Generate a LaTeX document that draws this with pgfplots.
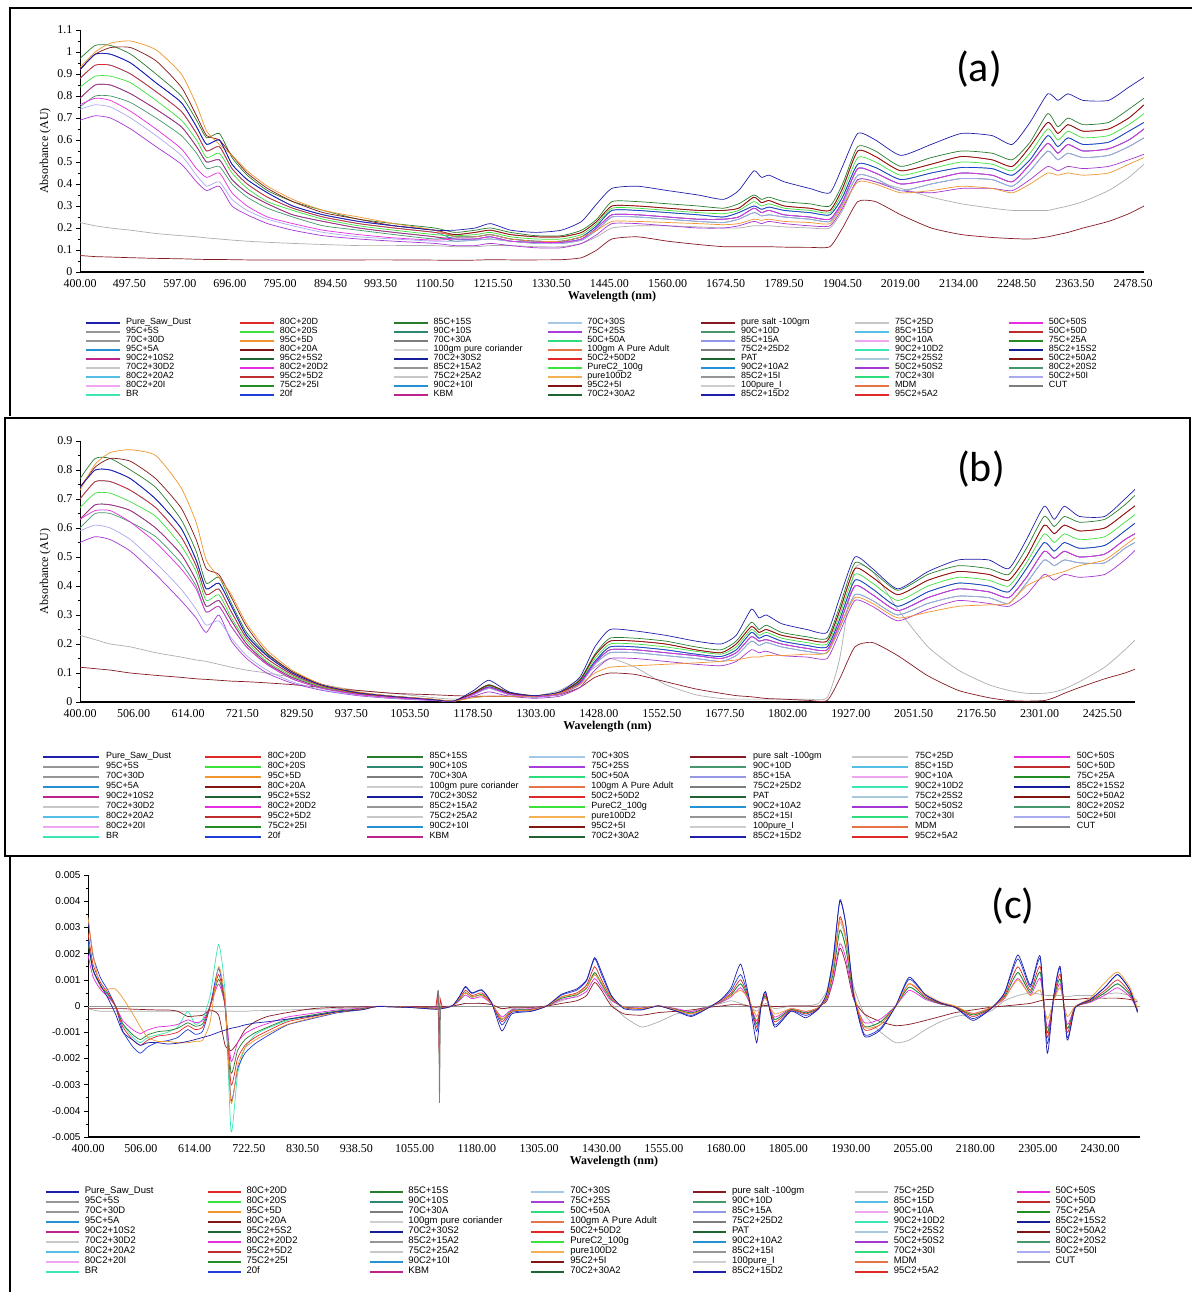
\documentclass[border=0pt]{standalone}
\usepackage{pgfplots}
\pgfplotsset{compat=1.18}
\usepackage{pgfplotstable}
\usepackage{fontspec}
\setmainfont{Liberation Serif}
\setsansfont{Liberation Sans}
\newfontfamily\calfont{Carlito}
\newfontfamily\legfont{Liberation Sans}

\definecolor{kNavy}{RGB}{30,30,170}
\definecolor{kRed}{RGB}{225,40,40}
\definecolor{kDGreen}{RGB}{40,125,45}
\definecolor{kLBlue}{RGB}{165,200,230}
\definecolor{kMaroon}{RGB}{135,25,35}
\definecolor{kLGrey}{RGB}{200,200,200}
\definecolor{kMag}{RGB}{230,45,225}
\definecolor{kGrey}{RGB}{150,150,150}
\definecolor{kBGreen}{RGB}{60,225,60}
\definecolor{kTeal}{RGB}{45,135,115}
\definecolor{kPurp}{RGB}{170,60,220}
\definecolor{kSGreen}{RGB}{70,150,110}
\definecolor{kSky}{RGB}{85,190,230}
\definecolor{kBrick}{RGB}{190,45,45}
\definecolor{kOrange}{RGB}{240,150,45}
\definecolor{kDGrey}{RGB}{125,125,125}
\definecolor{kSpring}{RGB}{45,220,125}
\definecolor{kPeri}{RGB}{150,150,230}
\definecolor{kLPink}{RGB}{240,165,240}
\definecolor{kGreen}{RGB}{35,140,35}
\definecolor{kCeru}{RGB}{35,145,210}
\definecolor{kDRed}{RGB}{130,20,20}
\definecolor{kVLGrey}{RGB}{205,205,205}
\definecolor{kCoral}{RGB}{230,115,70}
\definecolor{kAqua}{RGB}{60,230,180}
\definecolor{kDNavy}{RGB}{20,30,150}
\definecolor{kMVRed}{RGB}{190,35,140}
\definecolor{kDDGreen}{RGB}{30,100,50}
\definecolor{kLBGrey}{RGB}{170,200,220}
\definecolor{kViolet}{RGB}{165,55,210}
\definecolor{kLOrange}{RGB}{245,175,85}
\definecolor{kLav}{RGB}{170,170,240}
\definecolor{kBlue}{RGB}{30,60,220}

\newcommand\LE[2]{\addlegendimage{#1}\addlegendentry{#2}}
\newcommand\biglegend{%
\LE{kNavy}{Pure\_Saw\_Dust}\LE{kRed}{80C+20D}\LE{kDGreen}{85C+15S}\LE{kLBlue}{70C+30S}\LE{kMaroon}{pure salt -100gm}\LE{kLGrey}{75C+25D}\LE{kMag}{50C+50S}%
\LE{kGrey}{95C+5S}\LE{kBGreen}{80C+20S}\LE{kTeal}{90C+10S}\LE{kPurp}{75C+25S}\LE{kSGreen}{90C+10D}\LE{kSky}{85C+15D}\LE{kBrick}{50C+50D}%
\LE{kGrey}{70C+30D}\LE{kOrange}{95C+5D}\LE{kDGrey}{70C+30A}\LE{kSpring}{50C+50A}\LE{kPeri}{85C+15A}\LE{kLPink}{90C+10A}\LE{kGreen}{75C+25A}%
\LE{kCeru}{95C+5A}\LE{kDRed}{80C+20A}\LE{kVLGrey}{100gm pure coriander}\LE{kCoral}{100gm A Pure Adult}\LE{kDGrey}{75C2+25D2}\LE{kAqua}{90C2+10D2}\LE{kDNavy}{85C2+15S2}%
\LE{kMVRed}{90C2+10S2}\LE{kDDGreen}{95C2+5S2}\LE{kDNavy}{70C2+30S2}\LE{kRed}{50C2+50D2}\LE{kDDGreen}{PAT}\LE{kLBGrey}{75C2+25S2}\LE{kDRed}{50C2+50A2}%
\LE{kLGrey}{70C2+30D2}\LE{kMag}{80C2+20D2}\LE{kGrey}{85C2+15A2}\LE{kBGreen}{PureC2\_100g}\LE{kCeru}{90C2+10A2}\LE{kViolet}{50C2+50S2}\LE{kSGreen}{80C2+20S2}%
\LE{kSky}{80C2+20A2}\LE{kBrick}{95C2+5D2}\LE{kLGrey}{75C2+25A2}\LE{kLOrange}{pure100D2}\LE{kGrey}{85C2+15I}\LE{kSpring}{70C2+30I}\LE{kLav}{50C2+50I}%
\LE{kLPink}{80C2+20I}\LE{kGreen}{75C2+25I}\LE{kCeru}{90C2+10I}\LE{kDRed}{95C2+5I}\LE{kVLGrey}{100pure\_I}\LE{kCoral}{MDM}\LE{kDGrey}{CUT}%
\LE{kAqua}{BR}\LE{kBlue}{20f}\LE{kMVRed}{KBM}\LE{kDDGreen}{70C2+30A2}\LE{kNavy}{85C2+15D2}\LE{kRed}{95C2+5A2}%
}

\pgfplotsset{
 spec/.style={scale only axis, axis x line*=bottom, axis y line*=left,
  x axis line style={line width=2.6pt}, y axis line style={line width=0.6pt},
  xtick style={draw=none}, ytick style={black,line width=0.5pt},
  tick align=outside, major tick length=4pt, minor tick length=2.5pt, minor y tick num=1,
  xticklabel style={font=\fontsize{12}{12}\selectfont},
  yticklabel style={font=\fontsize{12}{12}\selectfont},
  xlabel style={font=\bfseries\fontsize{12}{12}\selectfont, yshift=3pt},
  ylabel style={font=\fontsize{12}{12}\selectfont},
  every axis plot/.append style={line width=0.7pt},
  legend columns=7, legend cell align=left},
 legA/.style={legend style={at={(0.0047,-0.19)}, anchor=north west, draw=none, fill=none, inner sep=0pt,
  font=\legfont\fontsize{9}{9}\selectfont, /tikz/every odd column/.append style={column sep=5pt},
  nodes={inner sep=0pt, text height=6.5pt, text depth=2.5pt, text width=113pt, align=left}},
  legend image code/.code={\draw[##1,line width=1.8pt] (0pt,0pt) -- (34pt,0pt);}},
 legB/.style={legend style={at={(-0.036,-0.19)}, anchor=north west, draw=none, fill=none, inner sep=0pt,
  font=\legfont\fontsize{9}{9}\selectfont, /tikz/every odd column/.append style={column sep=6pt},
  nodes={inner sep=0pt, text height=7pt, text depth=3pt, text width=98pt, align=left}},
  legend image code/.code={\draw[##1,line width=1.8pt] (0pt,0pt) -- (56pt,0pt);}},
 legC/.style={legend style={at={(-0.041,-0.19)}, anchor=north west, draw=none, fill=none, inner sep=0pt,
  font=\legfont\fontsize{9.5}{9.5}\selectfont, /tikz/every odd column/.append style={column sep=5pt},
  nodes={inner sep=0pt, text height=7pt, text depth=3pt, text width=122pt, align=left}},
  legend image code/.code={\draw[##1,line width=1.8pt] (0pt,0pt) -- (33pt,0pt);}},
 sm/.style={smooth, tension=0.35},
}

\pgfplotstableread{
x g r lg bl mg sg ce tl nv or dr pu lv ma gy sa
400 0.97 0.88 0.84 0.92 0.79 0.75 0.88 0.79 0.92 0.93 0.92 0.69 0.74 0.76 0.225 0.075
430 1.03 0.94 0.89 0.99 0.85 0.80 0.94 0.85 0.99 1.00 0.99 0.71 0.76 0.79 0.21 0.07
460 1.03 0.94 0.89 0.99 0.85 0.80 0.94 0.85 0.99 1.04 1.02 0.70 0.75 0.78 0.20 0.068
500 0.99 0.90 0.86 0.95 0.81 0.77 0.90 0.81 0.95 1.05 1.02 0.65 0.70 0.73 0.19 0.065
550 0.90 0.82 0.78 0.86 0.74 0.70 0.82 0.74 0.86 1.01 0.96 0.57 0.62 0.65 0.175 0.062
600 0.80 0.73 0.69 0.77 0.66 0.62 0.73 0.66 0.77 0.90 0.84 0.49 0.53 0.56 0.165 0.06
630 0.69 0.63 0.60 0.66 0.57 0.54 0.63 0.57 0.66 0.76 0.71 0.41 0.44 0.47 0.16 0.058
650 0.61 0.55 0.52 0.58 0.50 0.47 0.55 0.50 0.58 0.64 0.62 0.37 0.39 0.43 0.155 0.057
675 0.63 0.57 0.54 0.60 0.51 0.48 0.57 0.51 0.60 0.58 0.60 0.39 0.41 0.45 0.15 0.057
700 0.52 0.47 0.45 0.49 0.42 0.40 0.47 0.42 0.49 0.53 0.53 0.30 0.33 0.36 0.145 0.056
730 0.44 0.40 0.38 0.42 0.36 0.34 0.40 0.36 0.42 0.46 0.45 0.26 0.28 0.30 0.14 0.055
770 0.37 0.34 0.32 0.36 0.31 0.29 0.34 0.31 0.36 0.39 0.38 0.22 0.24 0.25 0.135 0.055
820 0.32 0.29 0.28 0.30 0.26 0.25 0.29 0.26 0.30 0.33 0.32 0.19 0.21 0.22 0.13 0.055
880 0.28 0.25 0.24 0.26 0.23 0.21 0.25 0.23 0.26 0.28 0.27 0.165 0.18 0.19 0.125 0.055
950 0.24 0.22 0.21 0.23 0.20 0.19 0.22 0.20 0.23 0.25 0.24 0.15 0.16 0.17 0.12 0.055
1020 0.22 0.20 0.19 0.21 0.18 0.17 0.20 0.18 0.21 0.22 0.21 0.14 0.15 0.155 0.12 0.055
1100 0.20 0.18 0.17 0.19 0.16 0.15 0.18 0.16 0.19 0.19 0.19 0.13 0.14 0.145 0.12 0.054
1140 0.18 0.17 0.165 0.16 0.15 0.16 0.15 0.14 0.19 0.16 0.17 0.12 0.14 0.15 0.115 0.053
1180 0.19 0.18 0.17 0.16 0.15 0.16 0.15 0.145 0.20 0.16 0.18 0.12 0.145 0.15 0.115 0.054
1210 0.20 0.19 0.18 0.17 0.16 0.17 0.16 0.15 0.22 0.17 0.19 0.13 0.15 0.16 0.12 0.056
1250 0.18 0.17 0.16 0.15 0.14 0.15 0.14 0.14 0.19 0.15 0.17 0.12 0.14 0.14 0.12 0.055
1300 0.165 0.16 0.15 0.14 0.135 0.14 0.135 0.13 0.18 0.14 0.16 0.11 0.13 0.135 0.115 0.055
1350 0.165 0.16 0.15 0.14 0.135 0.14 0.135 0.13 0.19 0.14 0.16 0.11 0.13 0.135 0.115 0.056
1390 0.19 0.18 0.17 0.16 0.15 0.16 0.15 0.145 0.23 0.16 0.18 0.13 0.145 0.15 0.13 0.065
1420 0.24 0.23 0.22 0.21 0.20 0.21 0.20 0.19 0.31 0.19 0.23 0.17 0.19 0.20 0.16 0.10
1450 0.32 0.30 0.29 0.28 0.26 0.28 0.26 0.25 0.38 0.23 0.30 0.22 0.25 0.26 0.20 0.15
1500 0.32 0.30 0.29 0.28 0.26 0.28 0.26 0.25 0.39 0.23 0.30 0.22 0.25 0.26 0.21 0.16
1560 0.31 0.29 0.28 0.27 0.25 0.27 0.25 0.24 0.37 0.225 0.29 0.21 0.24 0.25 0.21 0.14
1620 0.30 0.28 0.27 0.26 0.24 0.26 0.24 0.23 0.35 0.22 0.28 0.20 0.23 0.24 0.205 0.125
1670 0.29 0.28 0.265 0.25 0.24 0.25 0.24 0.225 0.33 0.215 0.28 0.20 0.225 0.24 0.20 0.115
1700 0.31 0.29 0.28 0.27 0.25 0.27 0.25 0.24 0.37 0.22 0.29 0.21 0.24 0.25 0.20 0.115
1730 0.35 0.34 0.32 0.30 0.29 0.30 0.29 0.27 0.46 0.24 0.34 0.23 0.27 0.29 0.21 0.115
1745 0.33 0.315 0.30 0.285 0.27 0.285 0.27 0.255 0.43 0.235 0.315 0.22 0.255 0.27 0.21 0.115
1760 0.34 0.325 0.31 0.295 0.28 0.295 0.28 0.26 0.44 0.24 0.325 0.23 0.26 0.28 0.21 0.115
1790 0.32 0.30 0.29 0.28 0.26 0.28 0.26 0.25 0.41 0.23 0.30 0.22 0.25 0.26 0.205 0.113
1840 0.31 0.29 0.28 0.27 0.25 0.27 0.25 0.24 0.38 0.225 0.29 0.21 0.24 0.25 0.20 0.112
1880 0.30 0.28 0.27 0.26 0.24 0.26 0.24 0.23 0.36 0.22 0.28 0.21 0.23 0.24 0.20 0.115
1905 0.40 0.38 0.36 0.34 0.32 0.34 0.32 0.31 0.48 0.30 0.38 0.29 0.31 0.32 0.28 0.20
1935 0.57 0.55 0.52 0.49 0.47 0.49 0.47 0.44 0.63 0.41 0.55 0.42 0.44 0.47 0.42 0.32
1970 0.55 0.525 0.50 0.475 0.45 0.475 0.45 0.425 0.60 0.40 0.525 0.41 0.425 0.45 0.41 0.32
2020 0.48 0.46 0.44 0.42 0.40 0.42 0.40 0.37 0.53 0.36 0.46 0.37 0.37 0.40 0.38 0.26
2080 0.52 0.49 0.47 0.45 0.42 0.45 0.42 0.40 0.58 0.37 0.49 0.36 0.40 0.42 0.34 0.20
2140 0.55 0.525 0.50 0.475 0.45 0.475 0.45 0.425 0.63 0.39 0.525 0.38 0.425 0.45 0.31 0.17
2200 0.54 0.51 0.49 0.47 0.44 0.47 0.44 0.42 0.62 0.38 0.51 0.38 0.42 0.44 0.29 0.157
2240 0.51 0.48 0.46 0.44 0.41 0.44 0.41 0.39 0.58 0.36 0.48 0.37 0.39 0.41 0.28 0.152
2275 0.59 0.57 0.54 0.51 0.49 0.51 0.49 0.46 0.68 0.40 0.57 0.42 0.46 0.49 0.28 0.15
2310 0.72 0.68 0.65 0.62 0.585 0.62 0.585 0.55 0.81 0.45 0.68 0.48 0.55 0.585 0.28 0.16
2330 0.66 0.63 0.60 0.57 0.54 0.57 0.54 0.51 0.78 0.44 0.63 0.46 0.51 0.54 0.29 0.17
2350 0.70 0.67 0.64 0.61 0.58 0.61 0.58 0.54 0.81 0.45 0.67 0.48 0.54 0.58 0.30 0.18
2380 0.67 0.64 0.61 0.58 0.55 0.58 0.55 0.52 0.78 0.44 0.64 0.47 0.52 0.55 0.32 0.20
2430 0.68 0.65 0.62 0.59 0.56 0.59 0.56 0.53 0.78 0.45 0.65 0.48 0.53 0.56 0.37 0.23
2470 0.74 0.70 0.67 0.64 0.60 0.64 0.60 0.57 0.84 0.49 0.70 0.51 0.57 0.60 0.43 0.265
2500 0.79 0.76 0.72 0.68 0.65 0.68 0.65 0.61 0.885 0.52 0.76 0.535 0.61 0.65 0.49 0.30
}\tA

\pgfplotstableread{
x g r lg bl mg sg ce tl nv or dr pu lv ma gy sa
400 0.77 0.70 0.67 0.74 0.63 0.60 0.70 0.63 0.74 0.73 0.74 0.55 0.59 0.63 0.23 0.12
430 0.84 0.76 0.72 0.80 0.68 0.65 0.76 0.68 0.80 0.82 0.81 0.57 0.61 0.66 0.215 0.115
460 0.84 0.76 0.72 0.80 0.68 0.65 0.76 0.68 0.80 0.86 0.84 0.56 0.60 0.66 0.20 0.11
500 0.80 0.73 0.69 0.77 0.66 0.62 0.73 0.66 0.77 0.87 0.83 0.52 0.56 0.62 0.19 0.10
550 0.74 0.67 0.64 0.70 0.60 0.57 0.67 0.60 0.70 0.85 0.77 0.44 0.48 0.55 0.17 0.092
600 0.63 0.57 0.54 0.60 0.51 0.48 0.57 0.51 0.60 0.74 0.67 0.35 0.39 0.46 0.155 0.085
630 0.52 0.47 0.45 0.49 0.42 0.40 0.47 0.42 0.49 0.62 0.56 0.29 0.32 0.39 0.145 0.08
650 0.41 0.37 0.35 0.39 0.33 0.31 0.37 0.33 0.39 0.49 0.46 0.24 0.265 0.31 0.14 0.078
675 0.43 0.39 0.37 0.41 0.35 0.33 0.39 0.35 0.41 0.43 0.44 0.30 0.28 0.33 0.13 0.075
700 0.34 0.31 0.29 0.33 0.28 0.26 0.31 0.28 0.33 0.37 0.36 0.21 0.22 0.26 0.12 0.072
730 0.24 0.22 0.21 0.23 0.20 0.19 0.22 0.20 0.23 0.27 0.26 0.15 0.16 0.19 0.11 0.07
770 0.165 0.15 0.14 0.16 0.135 0.13 0.15 0.135 0.16 0.18 0.17 0.10 0.11 0.13 0.10 0.066
820 0.105 0.095 0.09 0.10 0.085 0.08 0.095 0.085 0.10 0.11 0.105 0.065 0.07 0.08 0.085 0.06
880 0.06 0.055 0.052 0.058 0.05 0.047 0.055 0.05 0.058 0.06 0.06 0.04 0.042 0.047 0.06 0.05
950 0.033 0.03 0.029 0.032 0.027 0.026 0.03 0.027 0.032 0.035 0.033 0.022 0.024 0.026 0.04 0.04
1020 0.02 0.018 0.017 0.019 0.016 0.015 0.018 0.016 0.019 0.02 0.02 0.012 0.013 0.015 0.03 0.03
1100 0.009 0.008 0.008 0.008 0.007 0.007 0.008 0.007 0.008 0.01 0.009 0.005 0.006 0.007 0.015 0.025
1140 0.003 0.003 0.003 0.003 0.003 0.003 0.003 0.003 0.003 0.003 0.003 0.002 0.003 0.003 0.01 0.022
1180 0.033 0.032 0.03 0.029 0.027 0.029 0.027 0.026 0.04 0.015 0.032 0.02 0.026 0.027 0.015 0.02
1210 0.06 0.058 0.055 0.052 0.05 0.052 0.05 0.047 0.075 0.02 0.058 0.035 0.047 0.05 0.02 0.02
1250 0.033 0.032 0.03 0.029 0.027 0.029 0.027 0.026 0.035 0.02 0.032 0.02 0.026 0.027 0.02 0.02
1300 0.022 0.021 0.02 0.019 0.018 0.019 0.018 0.017 0.022 0.02 0.021 0.013 0.017 0.018 0.02 0.02
1350 0.033 0.032 0.03 0.029 0.027 0.029 0.027 0.026 0.035 0.03 0.032 0.02 0.026 0.027 0.04 0.025
1390 0.077 0.074 0.07 0.067 0.063 0.067 0.063 0.06 0.085 0.06 0.074 0.05 0.06 0.063 0.08 0.05
1420 0.165 0.16 0.15 0.14 0.135 0.14 0.135 0.13 0.19 0.10 0.16 0.11 0.13 0.135 0.12 0.085
1450 0.22 0.21 0.20 0.19 0.18 0.19 0.18 0.17 0.25 0.12 0.21 0.15 0.17 0.18 0.15 0.10
1500 0.22 0.21 0.20 0.19 0.18 0.19 0.18 0.17 0.245 0.125 0.21 0.15 0.17 0.18 0.12 0.095
1560 0.21 0.20 0.19 0.18 0.17 0.18 0.17 0.16 0.23 0.13 0.20 0.14 0.16 0.17 0.06 0.07
1620 0.19 0.18 0.175 0.165 0.16 0.165 0.16 0.15 0.21 0.135 0.18 0.13 0.15 0.16 0.025 0.045
1670 0.18 0.17 0.165 0.157 0.15 0.157 0.15 0.14 0.20 0.14 0.17 0.125 0.14 0.15 0.012 0.03
1700 0.21 0.20 0.19 0.18 0.17 0.18 0.17 0.16 0.23 0.145 0.20 0.14 0.16 0.17 0.01 0.022
1730 0.275 0.26 0.25 0.24 0.225 0.24 0.225 0.21 0.32 0.155 0.26 0.18 0.21 0.225 0.01 0.018
1745 0.25 0.24 0.23 0.22 0.21 0.22 0.21 0.195 0.29 0.155 0.24 0.17 0.195 0.21 0.01 0.015
1760 0.265 0.25 0.24 0.23 0.215 0.23 0.215 0.205 0.30 0.16 0.25 0.175 0.205 0.215 0.01 0.012
1790 0.24 0.23 0.22 0.21 0.20 0.21 0.20 0.19 0.27 0.16 0.23 0.16 0.19 0.20 0.01 0.01
1840 0.225 0.215 0.205 0.195 0.185 0.195 0.185 0.175 0.25 0.165 0.215 0.155 0.175 0.185 0.01 0.006
1880 0.22 0.21 0.20 0.19 0.18 0.19 0.18 0.17 0.24 0.17 0.21 0.15 0.17 0.18 0.015 0.005
1905 0.33 0.315 0.30 0.285 0.27 0.285 0.27 0.255 0.36 0.26 0.315 0.24 0.255 0.27 0.15 0.08
1935 0.48 0.46 0.44 0.42 0.40 0.42 0.40 0.37 0.50 0.36 0.46 0.35 0.37 0.40 0.46 0.19
1970 0.45 0.43 0.41 0.39 0.37 0.39 0.37 0.35 0.46 0.34 0.43 0.33 0.35 0.37 0.45 0.205
2020 0.385 0.37 0.35 0.33 0.315 0.33 0.315 0.30 0.39 0.29 0.37 0.28 0.30 0.315 0.32 0.16
2080 0.44 0.42 0.40 0.38 0.36 0.38 0.36 0.34 0.45 0.31 0.42 0.32 0.34 0.36 0.19 0.09
2140 0.47 0.45 0.43 0.41 0.39 0.41 0.39 0.365 0.49 0.33 0.45 0.35 0.365 0.39 0.11 0.04
2200 0.46 0.44 0.42 0.40 0.38 0.40 0.38 0.36 0.49 0.335 0.44 0.34 0.36 0.38 0.06 0.015
2240 0.44 0.42 0.40 0.38 0.36 0.38 0.36 0.34 0.46 0.34 0.42 0.33 0.34 0.36 0.04 0.005
2275 0.53 0.50 0.48 0.46 0.43 0.46 0.43 0.41 0.56 0.40 0.50 0.37 0.41 0.43 0.03 0.003
2310 0.64 0.61 0.58 0.55 0.52 0.55 0.52 0.49 0.675 0.43 0.61 0.44 0.49 0.52 0.03 0.005
2330 0.605 0.58 0.55 0.52 0.495 0.52 0.495 0.47 0.63 0.44 0.58 0.42 0.47 0.495 0.035 0.015
2350 0.64 0.61 0.58 0.55 0.52 0.55 0.52 0.49 0.675 0.45 0.61 0.44 0.49 0.52 0.045 0.03
2380 0.62 0.59 0.56 0.53 0.50 0.53 0.50 0.48 0.64 0.47 0.59 0.43 0.48 0.50 0.07 0.05
2430 0.63 0.60 0.57 0.54 0.51 0.54 0.51 0.48 0.64 0.49 0.60 0.44 0.48 0.51 0.12 0.08
2470 0.68 0.65 0.62 0.59 0.56 0.59 0.56 0.53 0.70 0.54 0.65 0.49 0.53 0.56 0.18 0.10
2500 0.73 0.69 0.66 0.63 0.59 0.63 0.59 0.56 0.75 0.58 0.69 0.54 0.56 0.59 0.23 0.12
}\tB

\pgfplotstableread{
x hi mid lo vlo cy or nv gy sa
400 3.36 2.8 2.38 1.96 2.5 3.4 2.5 -0.1 -0.1
410 1.92 1.6 1.36 1.12 1.4 2.0 1.4 -0.15 -0.1
425 1.08 0.9 0.77 0.63 0.8 0.7 0.8 -0.2 -0.1
440 0.6 0.5 0.43 0.35 0.45 0.65 0.3 -0.2 -0.1
455 0 0 0 0 0 0.65 -0.3 -0.2 -0.1
470 -0.96 -0.8 -0.68 -0.56 -0.7 0.3 -1.0 -0.2 -0.1
490 -1.56 -1.3 -1.1 -0.91 -1.2 -0.3 -1.3 -0.2 -0.12
505 -1.8 -1.5 -1.28 -1.05 -1.4 -0.8 -1.5 -0.2 -0.13
520 -1.56 -1.3 -1.1 -0.91 -1.2 -1.2 -1.4 -0.2 -0.14
540 -1.38 -1.15 -0.98 -0.8 -1.1 -1.35 -1.4 -0.2 -0.15
560 -1.32 -1.1 -0.94 -0.77 -1.0 -1.35 -1.45 -0.2 -0.15
580 -1.2 -1.0 -0.85 -0.7 -0.8 -1.4 -1.42 -0.2 -0.2
600 -0.9 -0.75 -0.64 -0.53 -0.2 -1.4 -1.35 -0.2 -0.4
615 -1.08 -0.9 -0.77 -0.63 -0.7 -1.35 -1.28 -0.2 -0.38
630 -0.96 -0.8 -0.68 -0.56 -0.5 -1.3 -1.2 -0.2 -0.35
645 0 0 0 0 0.4 -0.6 -1.12 -0.2 -0.15
662 1.44 1.2 1.02 0.84 2.35 1.5 -1.0 -0.2 -0.35
675 0 0 0 0 0.5 0.2 -0.92 -0.2 -1.5
687 -3.6 -3.0 -2.55 -2.1 -4.8 -3.7 -0.85 -0.2 -1.7
700 -2.4 -2.0 -1.7 -1.4 -2.6 -2.3 -0.8 -0.2 -1.4
715 -1.8 -1.5 -1.28 -1.05 -1.6 -1.6 -0.72 -0.2 -0.9
735 -1.44 -1.2 -1.02 -0.84 -1.1 -1.3 -0.65 -0.18 -0.6
760 -1.14 -0.95 -0.81 -0.67 -0.85 -1.05 -0.6 -0.17 -0.4
800 -0.72 -0.6 -0.51 -0.42 -0.55 -0.7 -0.5 -0.15 -0.25
850 -0.48 -0.4 -0.34 -0.28 -0.36 -0.45 -0.38 -0.13 -0.1
900 -0.26 -0.22 -0.19 -0.15 -0.2 -0.24 -0.22 -0.1 -0.05
950 -0.14 -0.12 -0.1 -0.08 -0.1 -0.13 -0.14 -0.05 -0.03
980 -0.02 -0.02 -0.02 -0.01 -0.02 -0.02 -0.02 -0.02 -0.02
1050 -0.06 -0.05 -0.04 -0.035 -0.05 -0.05 -0.06 -0.03 -0.02
1100 -0.12 -0.1 -0.085 -0.07 -0.1 -0.1 -0.12 -0.05 -0.03
1130 0 0 0 0 0 0 0 0 0
1145 0.36 0.3 0.26 0.21 0.26 0.3 0.36 0.05 0.05
1157 0.72 0.6 0.51 0.42 0.51 0.5 0.75 0.1 0.1
1170 0.48 0.4 0.34 0.28 0.34 0.35 0.5 0.1 0.1
1190 0.6 0.5 0.43 0.35 0.43 0.4 0.62 0.1 0.1
1210 0.12 0.1 0.085 0.07 0.085 0.1 0.1 0.05 0.05
1230 -0.72 -0.6 -0.51 -0.42 -0.51 -0.5 -0.95 -0.1 -0.1
1250 -0.24 -0.2 -0.17 -0.14 -0.17 -0.2 -0.3 -0.1 -0.05
1290 -0.18 -0.15 -0.13 -0.1 -0.13 -0.15 -0.2 -0.05 -0.05
1320 0 0 0 0 0 0 0 0 0
1350 0.42 0.35 0.3 0.25 0.3 0.35 0.45 0.2 0.1
1380 0.6 0.5 0.43 0.35 0.43 0.45 0.65 0.4 0.2
1400 0.96 0.8 0.68 0.56 0.68 0.7 1.0 0.8 0.4
1416 1.8 1.5 1.28 1.05 1.28 1.2 1.85 1.2 0.9
1430 1.2 1.0 0.85 0.7 0.85 0.9 1.3 0.8 0.6
1450 0.36 0.3 0.26 0.21 0.26 0.3 0.4 0.1 0.0
1475 -0.06 -0.05 -0.04 -0.035 -0.04 -0.05 -0.1 -0.4 -0.3
1510 -0.12 -0.1 -0.085 -0.07 -0.085 -0.1 -0.15 -0.8 -0.35
1545 0 0 0 0 0 0 0 -0.6 -0.25
1580 -0.18 -0.15 -0.13 -0.1 -0.13 -0.15 -0.2 -0.3 -0.2
1610 -0.36 -0.3 -0.26 -0.21 -0.26 -0.3 -0.4 -0.2 -0.15
1645 -0.06 -0.05 -0.04 -0.035 -0.04 -0.05 -0.06 0 -0.05
1670 0.24 0.2 0.17 0.14 0.17 0.2 0.25 0.1 0
1690 0.6 0.5 0.43 0.35 0.43 0.4 0.7 0.2 0.05
1709 1.2 1.0 0.85 0.7 0.85 0.6 1.6 0.1 0.05
1725 0.36 0.3 0.26 0.21 0.26 0.3 0.4 0 0
1741 -0.96 -0.8 -0.68 -0.56 -0.68 -0.4 -1.4 -0.2 -0.05
1750 0 0 0 0 0 0.1 0 0 0
1759 0.54 0.45 0.38 0.32 0.38 0.3 0.55 0.1 0.02
1777 -0.72 -0.6 -0.51 -0.42 -0.51 -0.3 -0.8 -0.1 -0.02
1810 -0.18 -0.15 -0.13 -0.1 -0.13 -0.1 -0.2 0 0
1840 -0.36 -0.3 -0.26 -0.21 -0.26 -0.2 -0.45 0 0
1865 -0.12 -0.1 -0.085 -0.07 -0.085 -0.05 -0.1 0.1 0
1882 0.48 0.4 0.34 0.28 0.34 0.4 0.5 0.6 0.2
1895 1.8 1.5 1.28 1.05 1.28 1.5 1.9 1.8 1.0
1908 4.05 3.4 2.89 2.38 2.89 3.3 4.0 3.2 2.2
1920 3.12 2.6 2.21 1.82 2.21 2.6 3.1 2.5 1.6
1935 0.6 0.5 0.43 0.35 0.43 0.6 0.5 0.8 0.3
1957 -1.08 -0.9 -0.77 -0.63 -0.77 -0.8 -1.15 -0.3 -0.3
1990 -0.84 -0.7 -0.6 -0.49 -0.6 -0.7 -0.9 -1.0 -0.6
2020 0 0 0 0 0 0 0 -1.4 -0.75
2047 1.02 0.85 0.72 0.6 0.72 0.85 1.1 -1.3 -0.7
2080 0.42 0.35 0.3 0.25 0.3 0.45 0.42 -0.9 -0.55
2110 0.12 0.1 0.085 0.07 0.085 0.15 0.12 -0.6 -0.4
2140 -0.06 -0.05 -0.04 -0.035 -0.04 0 -0.06 -0.4 -0.25
2175 -0.48 -0.4 -0.34 -0.28 -0.34 -0.3 -0.55 -0.3 -0.15
2210 -0.12 -0.1 -0.085 -0.07 -0.085 -0.05 -0.12 -0.2 -0.05
2238 0.48 0.4 0.34 0.28 0.34 0.3 0.5 0.2 0
2265 1.8 1.5 1.28 1.05 1.28 1.0 1.95 0.4 0.05
2290 0.72 0.6 0.51 0.42 0.51 0.4 0.8 0.5 0.1
2310 1.8 1.5 1.28 1.05 1.28 0.6 1.9 0.45 0.2
2324 -1.44 -1.2 -1.02 -0.84 -1.02 -0.5 -1.8 0.4 0.25
2337 0.36 0.3 0.26 0.21 0.26 0.2 0.4 0.4 0.25
2350 1.44 1.2 1.02 0.84 1.02 0.7 1.5 0.4 0.25
2364 -1.2 -1.0 -0.85 -0.7 -0.85 -0.4 -1.3 0.35 0.25
2380 -0.06 -0.05 -0.04 -0.035 -0.04 0 -0.06 0.4 0.25
2410 0.24 0.2 0.17 0.14 0.17 0.3 0.24 0.4 0.3
2440 0.72 0.6 0.51 0.42 0.51 0.9 0.72 0.45 0.3
2465 1.2 1.0 0.85 0.7 0.85 1.3 1.2 0.5 0.3
2490 0.6 0.5 0.43 0.35 0.43 0.7 0.6 0.4 0.25
2505 -0.24 -0.2 -0.17 -0.14 -0.17 -0.1 -0.24 0.2 0.15
}\tC

\newcommand\spectra[1]{%
\addplot[forget plot,sm,kVLGrey!85!black] table[x=x,y=gy]{#1};
\addplot[forget plot,sm,kMaroon] table[x=x,y=sa]{#1};
\addplot[forget plot,sm,kTeal] table[x=x,y=tl]{#1};
\addplot[forget plot,sm,kSGreen] table[x=x,y=sg]{#1};
\addplot[forget plot,sm,kMVRed] table[x=x,y=mg]{#1};
\addplot[forget plot,sm,kCeru] table[x=x,y=ce]{#1};
\addplot[forget plot,sm,kBGreen] table[x=x,y=lg]{#1};
\addplot[forget plot,sm,kBlue] table[x=x,y=bl]{#1};
\addplot[forget plot,sm,kRed] table[x=x,y=r]{#1};
\addplot[forget plot,sm,kDGreen] table[x=x,y=g]{#1};
\addplot[forget plot,sm,kViolet] table[x=x,y=pu]{#1};
\addplot[forget plot,sm,kLav] table[x=x,y=lv]{#1};
\addplot[forget plot,sm,kMag] table[x=x,y=ma]{#1};
\addplot[forget plot,sm,kDRed] table[x=x,y=dr]{#1};
\addplot[forget plot,sm,kOrange] table[x=x,y=or]{#1};
\addplot[forget plot,sm,kNavy] table[x=x,y=nv]{#1};
}

\begin{document}
\begin{tikzpicture}
\useasboundingbox (0,0) rectangle (1192pt,-1292pt);
\fill[white] (0,0) rectangle (1192pt,-1292pt);
% frames
\draw[line width=2pt] (10pt,-416pt) -- (10pt,-8pt) -- (1192pt,-8pt);
\draw[line width=2pt] (5pt,-418pt) rectangle (1190pt,-856pt);
\draw[line width=2pt] (10pt,-857pt) -- (10pt,-1292pt);

% (a)
\begin{axis}[spec, legA, at={(80pt,-272pt)}, anchor=south west, width=1064pt, height=242pt,
  xmin=400, xmax=2500, ymin=0, ymax=1.1,
  xtick={400,497.5,597,696,795,894.5,993.5,1100.5,1215.5,1330.5,1445,1560,1674.5,1789.5,1904.5,2019,2134,2248.5,2363.5,2478.5},
  xticklabels={400.00,497.50,597.00,696.00,795.00,894.50,993.50,1100.50,1215.50,1330.50,1445.00,1560.00,1674.50,1789.50,1904.50,2019.00,2134.00,2248.50,2363.50,2478.50},
  ytick={0,0.1,0.2,0.3,0.4,0.5,0.6,0.7,0.8,0.9,1,1.1},
  yticklabels={0,0.1,0.2,0.3,0.4,0.5,0.6,0.7,0.8,0.9,1,1.1},
  xlabel={Wavelength (nm)}, ylabel={Absorbance (AU)}]
\biglegend
\spectra{\tA}
\end{axis}

% (b)
\begin{axis}[spec, legB, at={(80pt,-702pt)}, anchor=south west, width=1055pt, height=261pt,
  xmin=400, xmax=2490, ymin=0, ymax=0.9,
  xtick={400,506,614,721.5,829.5,937.5,1053.5,1178.5,1303,1428,1552.5,1677.5,1802,1927,2051.5,2176.5,2301,2425.5},
  xticklabels={400.00,506.00,614.00,721.50,829.50,937.50,1053.50,1178.50,1303.00,1428.00,1552.50,1677.50,1802.00,1927.00,2051.50,2176.50,2301.00,2425.50},
  ytick={0,0.1,0.2,0.3,0.4,0.5,0.6,0.7,0.8,0.9},
  yticklabels={0,0.1,0.2,0.3,0.4,0.5,0.6,0.7,0.8,0.9},
  xlabel={Wavelength (nm)}, ylabel={Absorbance (AU)}]
\biglegend
\spectra{\tB}
\end{axis}

% (c)
\begin{axis}[spec, legC, at={(88pt,-1137pt)}, anchor=south west, width=1052pt, height=262pt,
  xmin=400, xmax=2510, ymin=-5, ymax=5,
  xtick={400,506,614,722.5,830.5,938.5,1055,1180,1305,1430,1555,1680,1805,1930,2055,2180,2305,2430},
  xticklabels={400.00,506.00,614.00,722.50,830.50,938.50,1055.00,1180.00,1305.00,1430.00,1555.00,1680.00,1805.00,1930.00,2055.00,2180.00,2305.00,2430.00},
  ytick={-5,-4,-3,-2,-1,0,1,2,3,4,5},
  yticklabels={-0.005,-0.004,-0.003,-0.002,-0.001,0,0.001,0.002,0.003,0.004,0.005},
  yticklabel style={font=\sffamily\fontsize{10}{10}\selectfont},
  xlabel={Wavelength (nm)}]
\biglegend
\addplot[forget plot,kGrey,line width=0.8pt] coordinates {(400,0) (2510,0)};
\addplot[forget plot,sm,kVLGrey!85!black] table[x=x,y=gy]{\tC};
\addplot[forget plot,sm,kMaroon] table[x=x,y=sa]{\tC};
\addplot[forget plot,sm,kAqua] table[x=x,y=cy]{\tC};
\addplot[forget plot,sm,kBlue] table[x=x,y=hi]{\tC};
\addplot[forget plot,sm,kMag] table[x=x,y=vlo]{\tC};
\addplot[forget plot,sm,kDGreen] table[x=x,y=lo]{\tC};
\addplot[forget plot,sm,kRed] table[x=x,y=mid]{\tC};
\addplot[forget plot,sm,kOrange] table[x=x,y=or]{\tC};
\addplot[forget plot,sm,kNavy] table[x=x,y=nv]{\tC};
\addplot[forget plot,kRed,line width=0.8pt] coordinates {(1098,0) (1102,0.6) (1104,-1.8) (1106,0.3) (1110,0)};
\addplot[forget plot,kDGrey,line width=0.8pt] coordinates {(1100,0) (1103,0.6) (1105,-3.7) (1107,0)};
\end{axis}

\node[font=\calfont\fontsize{42}{42}\selectfont] at (979pt,-69pt) {(a)};
\node[font=\calfont\fontsize{42}{42}\selectfont] at (981pt,-469pt) {(b)};
\node[font=\calfont\fontsize{42}{42}\selectfont] at (1013pt,-906pt) {(c)};
\end{tikzpicture}
\end{document}
